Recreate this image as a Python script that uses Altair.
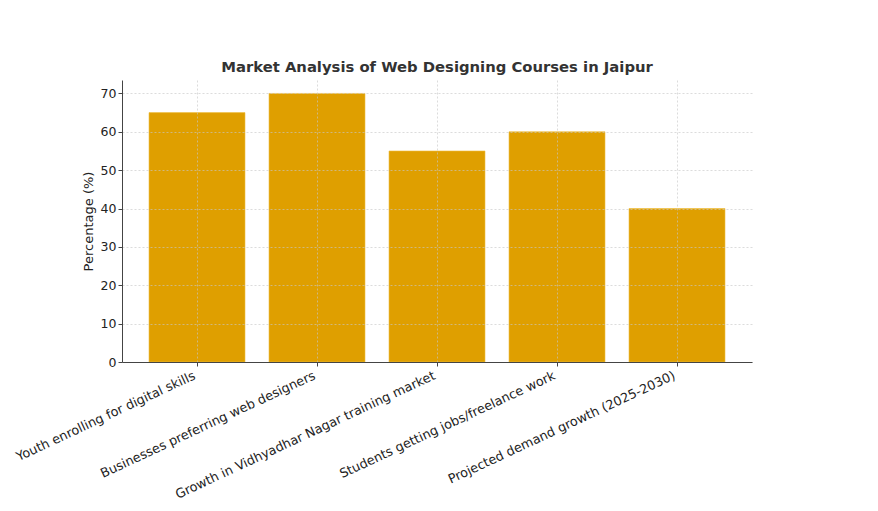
import altair as alt
import pandas as pd

categories = [
    "Youth enrolling for digital skills",
    "Businesses preferring web designers",
    "Growth in Vidhyadhar Nagar training market",
    "Students getting jobs/freelance work",
    "Projected demand growth (2025-2030)",
]
values = [65, 70, 55, 60, 40]
y_ticks = [0, 10, 20, 30, 40, 50, 60, 70]

df = pd.DataFrame({"category": categories, "value": values})

FONT = "DejaVu Sans"

chart = (
    alt.Chart(df)
    .mark_bar(color="#DF9F00", stroke="#F0C040", strokeWidth=0.6)
    .encode(
        x=alt.X(
            "category:N",
            sort=categories,
            title=None,
            scale=alt.Scale(paddingInner=0.2, paddingOuter=0.225),
            axis=alt.Axis(
                labelAngle=-25,
                labelAlign="right",
                labelBaseline="top",
                labelFontSize=12.8,
                labelPadding=3,
                labelOffset=-5,
                labelLimit=400,
                bandPosition=0.5,
                grid=True,
                gridDash=[2, 2],
                gridColor="#c8c8c8",
                gridWidth=0.7,
                gridOpacity=0.9,
                domainColor="#444444",
                tickColor="#444444",
                tickSize=4,
                zindex=1,
            ),
        ),
        y=alt.Y(
            "value:Q",
            title="Percentage (%)",
            scale=alt.Scale(domain=[0, 73.5], nice=False),
            axis=alt.Axis(
                values=y_ticks,
                labelFontSize=12.5,
                titleFontSize=13,
                titleFontWeight="normal",
                titlePadding=5,
                grid=True,
                gridDash=[2, 2],
                gridColor="#c8c8c8",
                gridWidth=0.7,
                gridOpacity=0.9,
                domainColor="#444444",
                tickColor="#444444",
                tickSize=4,
                zindex=1,
            ),
        ),
    )
    .properties(
        width=630,
        height=282,
        title=alt.Title(
            "Market Analysis of Web Designing Courses in Jaipur",
            fontSize=14.8,
            fontWeight="bold",
            color="#333333",
            offset=5,
            font=FONT,
        ),
        autosize=alt.AutoSizeParams(type="none"),
        padding={"left": 114, "top": 72, "right": 110, "bottom": 142},
    )
    .configure(font=FONT)
    .configure_axis(labelColor="#222222", titleColor="#222222", labelFont=FONT, titleFont=FONT)
    .configure_view(stroke=None)
)

chart.save("out.html", embed_options={"renderer": "svg", "actions": False})
